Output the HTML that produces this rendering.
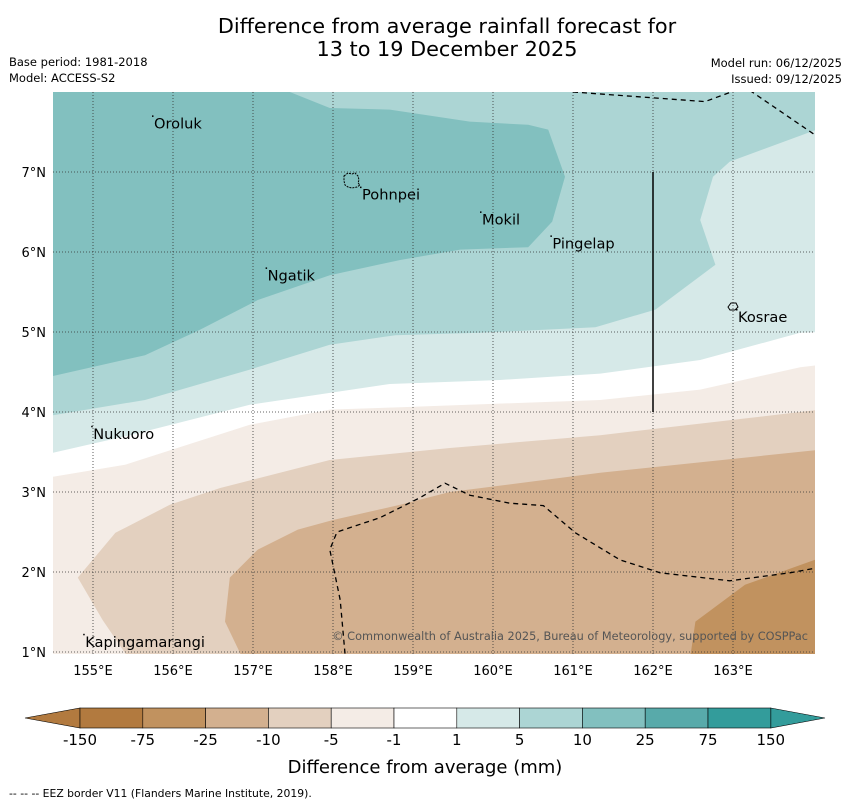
<!DOCTYPE html>
<html><head><meta charset="utf-8"><style>
body{margin:0;background:#fff;font-family:"Liberation Sans","DejaVu Sans",sans-serif}
svg text{font-family:"DejaVu Sans","Liberation Sans",sans-serif}
</style></head><body>
<svg id="s" width="850" height="804" xmlns="http://www.w3.org/2000/svg">
<text x="447" y="33" font-size="20.8" text-anchor="middle">Difference from average rainfall forecast for</text>
<text x="447" y="56" font-size="20.8" text-anchor="middle">13 to 19 December 2025</text>
<text x="9" y="66" font-size="11.5">Base period: 1981-2018</text>
<text x="9" y="82" font-size="11.5">Model: ACCESS-S2</text>
<text x="842" y="67" font-size="11.5" text-anchor="end">Model run: 06/12/2025</text>
<text x="842" y="83" font-size="11.5" text-anchor="end">Issued: 09/12/2025</text>
<defs><clipPath id="mc"><rect x="53" y="92" width="762" height="562"/></clipPath></defs>
<g id="map" clip-path="url(#mc)"></g>
<g id="ax"></g>
<g id="cb"></g>
<text x="425" y="773" font-size="18" text-anchor="middle">Difference from average (mm)</text>
<text x="9" y="797" font-size="10.8">--  --  -- EEZ border V11 (Flanders Marine Institute, 2019).</text>
</svg>
<script>
const lonTicks=[155,156,157,158,159,160,161,162,163];
const latTicks=[1,2,3,4,5,6,7];
const cbLabels=["-150","-75","-25","-10","-5","-1","1","5","10","25","75","150"];
const cbColors=["#b27a3f","#c1925f","#d3b08f","#e3d0bf","#f4ece6","#ffffff","#d6e9e8","#acd5d4","#82c0bf","#58aaaa","#339c9b"];
const bandDark=[[154.5,8.1],[157.21,8.1],[157.96,7.8],[158.71,7.78],[159.71,7.63],[160.44,7.59],[160.69,7.53],[160.9,6.94],[160.74,6.38],[160.44,6.06],[159.59,6.03],[158.84,5.9],[157.96,5.71],[157.06,5.4],[156.34,5.03],[155.65,4.71],[154.5,4.45]];
const line1=[[154.5,3.96],[155.65,4.15],[156.96,4.53],[157.96,4.84],[158.78,4.96],[159.84,4.99],[161.28,5.06],[162.03,5.28],[162.78,5.84],[162.59,6.4],[162.75,6.94],[162.96,7.13],[164.1,7.55]];
const line2=[[154.5,3.49],[155.46,3.71],[156.96,4.09],[158.71,4.35],[160.09,4.4],[161.34,4.48],[162.59,4.65],[163.84,4.99],[164.1,5.0]];
const line3=[[154.5,3.19],[155.4,3.34],[156.96,3.84],[157.96,4.03],[158.84,4.06],[161.34,4.15],[162.59,4.28],[163.84,4.56],[164.1,4.59]];
const bandM10=[[154.81,1.93],[155.28,2.49],[155.96,2.84],[156.59,3.05],[157.96,3.4],[159.46,3.55],[161.34,3.71],[164.1,4.03],[164.1,0.9],[155.46,0.9],[155.12,1.4]];
const bandM25=[[156.88,0.9],[156.65,1.38],[156.71,1.93],[157.06,2.28],[157.56,2.53],[158.0,2.65],[158.84,2.84],[159.46,3.0],[161.34,3.24],[164.1,3.53],[164.1,0.9]];
const bandM75=[[162.46,0.9],[162.53,1.38],[163.15,1.84],[164.1,2.18],[164.1,0.9]];
const eezSouth=[[158.15,0.98],[158.09,1.65],[157.96,2.28],[158.05,2.5],[158.59,2.68],[159.09,2.93],[159.4,3.11],[159.71,2.96],[160.21,2.86],[160.63,2.83],[161.03,2.49],[161.59,2.15],[162.09,1.99],[162.96,1.89],[163.71,1.99],[164.1,2.06]];
const eezNorth1=[[161.0,8],[162.65,7.88],[163.03,8.02]];
const eezNorth2=[[163.21,8.02],[164.03,7.46]];
const places=[["Oroluk",155.75,7.62],["Pohnpei",158.35,6.73],["Mokil",159.85,6.42],["Pingelap",160.73,6.12],["Ngatik",157.17,5.72],["Kosrae",163.05,5.2],["Nukuoro",154.99,3.74],["Kapingamarangi",154.89,1.14]];
const X=l=>53+(l-154.5)*80, Y=a=>92+(8-a)*80;
const NS="http://www.w3.org/2000/svg";
function mk(t,at,p){const e=document.createElementNS(NS,t);for(const k in at)e.setAttribute(k,at[k]);p.appendChild(e);return e;}
const map=document.getElementById('map'),ax=document.getElementById('ax'),cb=document.getElementById('cb');
const pts=a=>a.map(p=>X(p[0]).toFixed(1)+','+Y(p[1]).toFixed(1)).join(' ');
const down=a=>a.concat([[164.2,0.8],[154.4,0.8]]);
let r=mk('rect',{x:53,y:92,width:762,height:562,fill:'#acd5d4'},map);


const polys=[[bandDark,'#82c0bf','band-10-25'],[down(line1),'#d6e9e8','band-1-5'],[down(line2),'#ffffff','band-neutral'],[down(line3),'#f4ece6','band-minus5-minus1'],[bandM10,'#e3d0bf','band-minus10-minus5'],[bandM25,'#d3b08f','band-minus25-minus10'],[bandM75,'#c1925f','band-minus75-minus25']];
polys.forEach(p=>{const e=mk('polygon',{points:pts(p[0]),fill:p[1]},map);

});
lonTicks.forEach(l=>{const e=mk('line',{x1:X(l),x2:X(l),y1:92,y2:654,stroke:'#333','stroke-width':0.8,'stroke-dasharray':'1,2'},map);

});
latTicks.forEach(a=>{const e=mk('line',{x1:53,x2:815,y1:Y(a),y2:Y(a),stroke:'#333','stroke-width':0.8,'stroke-dasharray':'1,2'},map);

});
[eezSouth,eezNorth1,eezNorth2].forEach(a=>{const e=mk('polyline',{points:pts(a),fill:'none',stroke:'#000','stroke-width':1.3,'stroke-dasharray':'5,4'},map);

});
let v=mk('line',{x1:X(162),x2:X(162),y1:Y(7),y2:Y(4),stroke:'#000','stroke-width':1.5},map);


let pi=mk('path',{d:'M344,176 l4,-3 4,1 3,-1 3,3 1,4 -1,3 2,2 -3,2 -5,1 -4,-1 -3,-2 -1,-4z',fill:'none',stroke:'#000','stroke-width':1,'stroke-dasharray':'2,1'},map);


let ki=mk('path',{d:'M728,307 l3,-4 5,0 2,4 -3,3 -5,0z',fill:'none',stroke:'#000','stroke-width':1},map);


places.forEach(p=>{const t=mk('text',{x:X(p[1])+1,y:Y(p[2])+6,'font-size':14.6},map);t.textContent=p[0];


const d=mk('rect',{x:X(p[1])-1,y:Y(p[2])-7,width:1.5,height:1.5,fill:'#000'},map);

});
let cr=mk('text',{x:808,y:640,'font-size':11.3,'text-anchor':'end',fill:'#555'},map);cr.textContent='© Commonwealth of Australia 2025, Bureau of Meteorology, supported by COSPPac';


lonTicks.forEach(l=>{const t=mk('text',{x:X(l),y:675,'font-size':13,'text-anchor':'middle'},ax);t.textContent=l+'°E';

});
latTicks.forEach(a=>{const t=mk('text',{x:46,y:Y(a)+5,'font-size':13,'text-anchor':'end'},ax);t.textContent=a+'°N';

});
const cbX=i=>80+i*62.8;
let tl=mk('polygon',{points:`25,718 ${cbX(0)},708 ${cbX(0)},728`,fill:cbColors[0],stroke:'#000','stroke-width':0.6},cb);


let tr=mk('polygon',{points:`${cbX(11)},708 825,718 ${cbX(11)},728`,fill:cbColors[10],stroke:'#000','stroke-width':0.6},cb);


cbColors.forEach((c,i)=>{const e=mk('rect',{x:cbX(i),y:708,width:62.8,height:20,fill:c,stroke:'#000','stroke-width':0.6},cb);

});
cbLabels.forEach((s,i)=>{const t=mk('text',{x:cbX(i),y:745,'font-size':15,'text-anchor':'middle'},cb);t.textContent=s;

});
</script>
</body></html>
